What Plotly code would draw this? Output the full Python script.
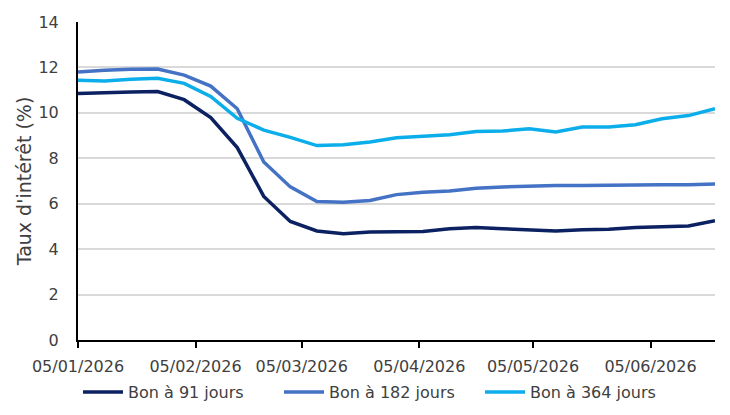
import plotly.graph_objects as go
import pandas as pd

dates = pd.date_range("2026-01-05", periods=25, freq="7D")

bon_91 = [10.85, 10.9, 10.92, 10.94, 10.58, 9.79, 8.47, 6.32, 5.22, 4.8, 4.68, 4.76, 4.78, 4.78, 4.9, 4.95, 4.9, 4.86, 4.8, 4.85, 4.88, 4.95, 4.97, 5.02, 5.25]
bon_182 = [11.8, 11.88, 11.92, 11.93, 11.66, 11.18, 10.18, 7.84, 6.74, 6.1, 6.06, 6.14, 6.4, 6.5, 6.56, 6.68, 6.74, 6.78, 6.8, 6.8, 6.8, 6.8, 6.83, 6.84, 6.87]
bon_364 = [11.44, 11.4, 11.48, 11.52, 11.3, 10.72, 9.76, 9.24, 8.92, 8.56, 8.6, 8.72, 8.9, 8.98, 9.04, 9.18, 9.2, 9.3, 9.16, 9.38, 9.38, 9.48, 9.74, 9.88, 10.18]

tick_dates = ["2026-01-05", "2026-02-05", "2026-03-05", "2026-04-05", "2026-05-05", "2026-06-05"]
tick_text = ["05/01/2026", "05/02/2026", "05/03/2026", "05/04/2026", "05/05/2026", "05/06/2026"]

series = [
    ("Bon à 91 jours", bon_91, "#0B2161"),
    ("Bon à 182 jours", bon_182, "#4472C4"),
    ("Bon à 364 jours", bon_364, "#0BAEEB"),
]

font_family = "'DejaVu Sans', sans-serif"
text_color = "#404040"

fig = go.Figure()
for name, vals, color in series:
    fig.add_trace(go.Scatter(
        x=dates, y=vals, name=name, mode="lines",
        line=dict(color=color, width=3.5),
    ))

fig.update_layout(
    width=730, height=415,
    margin=dict(l=78, r=15, t=22, b=75, autoexpand=False),
    paper_bgcolor="white", plot_bgcolor="white",
    font=dict(family=font_family, size=16, color=text_color),
    showlegend=True,
    legend=dict(
        orientation="h", x=0.0, xanchor="left",
        yref="container", y=0.055, yanchor="middle",
        bgcolor="rgba(0,0,0,0)",
        font=dict(size=16, color=text_color),
        entrywidth=146, entrywidthmode="pixels",
        itemwidth=40, tracegroupgap=0,
    ),
)

fig.update_xaxes(
    type="date",
    range=[dates[0], dates[-1]],
    tickvals=tick_dates, ticktext=tick_text,
    showgrid=False,
    showline=True, linecolor="black", linewidth=2,
    ticks="outside", ticklen=6, tickwidth=2, tickcolor="black",
    tickfont=dict(size=16, color=text_color),
    ticklabelstandoff=5,
    zeroline=False,
)

fig.update_yaxes(
    range=[0, 14], dtick=2,
    showgrid=True, gridcolor="#D9D9D9", gridwidth=1.5,
    showline=True, linecolor="black", linewidth=2,
    ticks="", tickfont=dict(size=16, color=text_color),
    ticklabelstandoff=14,
    title=dict(text="Taux d'intérêt (%)", font=dict(size=19, color=text_color), standoff=2),
    zeroline=False,
)

fig.write_html("out.html")
